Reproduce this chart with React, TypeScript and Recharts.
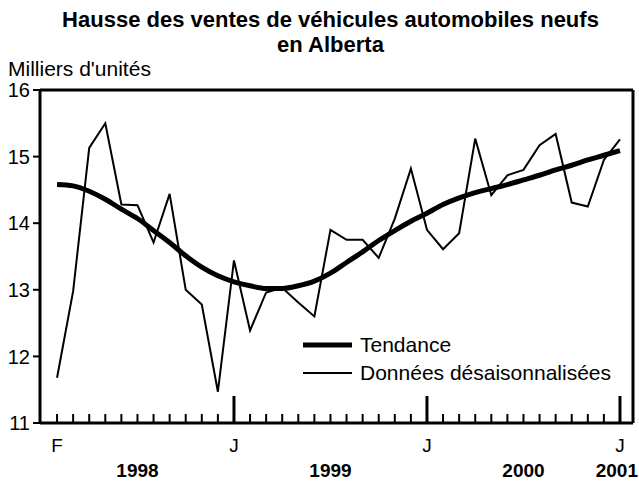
import React from 'react';
import {
  LineChart, Line, XAxis, YAxis, Legend,
} from 'recharts';

const months = [
  'F', 'M', 'A', 'M', 'J', 'J', 'A', 'S', 'O', 'N', 'D',
  'J', 'F', 'M', 'A', 'M', 'J', 'J', 'A', 'S', 'O', 'N', 'D',
  'J', 'F', 'M', 'A', 'M', 'J', 'J', 'A', 'S', 'O', 'N', 'D',
  'J',
];

const seasonallyAdjusted = [
  11.68, 12.98, 15.13, 15.5, 14.28, 14.27, 13.71, 14.44, 13.0, 12.78, 11.47,
  13.44, 12.39, 12.96, 13.03, 12.81, 12.6, 13.9, 13.75, 13.75, 13.48, 14.07, 14.82,
  13.9, 13.61, 13.85, 15.27, 14.42, 14.72, 14.8, 15.17, 15.34, 14.31, 14.25, 14.95,
  15.26,
];

const trend = [
  14.58, 14.56, 14.48, 14.36, 14.21, 14.07, 13.89, 13.71, 13.51, 13.34, 13.21,
  13.12, 13.06, 13.02, 13.02, 13.06, 13.13, 13.25, 13.41, 13.57, 13.74, 13.89, 14.03,
  14.15, 14.28, 14.38, 14.46, 14.52, 14.58, 14.65, 14.72, 14.8, 14.87, 14.95, 15.02,
  15.09,
];

// labels shown under the axis: index -> month letter, index -> year
const monthLabels: Record<number, string> = { 0: 'F', 11: 'J', 23: 'J', 35: 'J' };
const yearLabels: Record<number, string> = { 5: '1998', 17: '1999', 29: '2000', 35: '2001' };
const yTicks = [11, 12, 13, 14, 15, 16];

const data = months.map((m, i) => ({
  i,
  month: m,
  raw: seasonallyAdjusted[i],
  trend: trend[i],
}));

const FONT = '"Liberation Sans", Arial, sans-serif';
const LAST = months.length - 1;

function MonthTick(props: any) {
  const { x, y, payload } = props;
  const idx = payload.value as number;
  const isJan = idx > 0 && monthLabels[idx] === 'J';
  // last year label would run past the edge, so pin it to its right end
  const yearX = idx === LAST ? x + 18 : x;
  return (
    <g>
      <line x1={x} x2={x} y1={y} y2={y - (isJan ? 27 : 9)} stroke="#000" strokeWidth={isJan ? 3 : 2} />
      {monthLabels[idx] && (
        <text x={x} y={y + 29} textAnchor="middle" fontSize={19} fontFamily={FONT} fill="#000">
          {monthLabels[idx]}
        </text>
      )}
      {yearLabels[idx] && (
        <text
          x={yearX}
          y={y + 54}
          textAnchor={idx === LAST ? 'end' : 'middle'}
          fontSize={19}
          fontWeight="bold"
          fontFamily={FONT}
          fill="#000"
        >
          {yearLabels[idx]}
        </text>
      )}
    </g>
  );
}

function LegendBox() {
  const rows = [
    { label: 'Tendance', width: 5 },
    { label: 'Données désaisonnalisées', width: 2 },
  ];
  return (
    <div style={{ fontFamily: FONT, fontSize: 21, color: '#000' }}>
      {rows.map((r) => (
        <div key={r.label} style={{ display: 'flex', alignItems: 'center', height: 28 }}>
          <svg width={50} height={10} style={{ marginRight: 8 }}>
            <line x1={1} x2={50} y1={5} y2={5} stroke="#000" strokeWidth={r.width} />
          </svg>
          <span style={{ lineHeight: '28px' }}>{r.label}</span>
        </div>
      ))}
    </div>
  );
}

export default function App() {
  return (
    <div style={{ position: 'absolute', left: 0, top: 0, width: 639, height: 486, background: '#fff', fontFamily: FONT }}>
      <div style={{ position: 'absolute', top: 7, left: 0, width: 661, textAlign: 'center', fontWeight: 'bold', fontSize: 22, lineHeight: '25px' }}>
        Hausse des ventes de véhicules automobiles neufs<br />en Alberta
      </div>
      <div style={{ position: 'absolute', top: 57, left: 8, fontSize: 21, lineHeight: '24px' }}>Milliers d'unités</div>
      <LineChart
        width={639}
        height={486}
        data={data}
        margin={{ top: 90, right: 6, left: 8, bottom: 0 }}
      >
        <XAxis
          dataKey="i"
          type="number"
          domain={[-1.06, 35.81]}
          ticks={data.map((d) => d.i)}
          interval={0}
          height={63}
          tickSize={0}
          tickMargin={0}
          tickLine={false}
          axisLine={{ stroke: '#000', strokeWidth: 3 }}
          tick={<MonthTick />}
        />
        <XAxis
          xAxisId="top"
          dataKey="i"
          type="number"
          domain={[-1.06, 35.81]}
          orientation="top"
          mirror
          tick={false}
          tickLine={false}
          axisLine={{ stroke: '#000', strokeWidth: 3 }}
        />
        <YAxis
          domain={[11, 16]}
          ticks={yTicks}
          width={32}
          tickSize={7}
          tickMargin={3}
          tickLine={{ stroke: '#000', strokeWidth: 2 }}
          axisLine={{ stroke: '#000', strokeWidth: 3 }}
          tick={{ fill: '#000', fontSize: 20, fontFamily: FONT }}
        />
        <YAxis
          yAxisId="right"
          orientation="right"
          domain={[11, 16]}
          ticks={yTicks}
          mirror
          width={10}
          tickSize={8}
          tickLine={{ stroke: '#000', strokeWidth: 2 }}
          axisLine={{ stroke: '#000', strokeWidth: 3 }}
          tick={() => <g />}
        />
        <Legend
          layout="horizontal"
          verticalAlign="middle"
          align="center"
          content={<LegendBox />}
          wrapperStyle={{ top: 331, left: 302, width: 'auto' }}
        />
        <Line
          dataKey="trend"
          type="monotone"
          stroke="#000"
          strokeWidth={5}
          dot={false}
          isAnimationActive={false}
        />
        <Line
          dataKey="raw"
          type="linear"
          stroke="#000"
          strokeWidth={2}
          dot={false}
          isAnimationActive={false}
        />
      </LineChart>
    </div>
  );
}
